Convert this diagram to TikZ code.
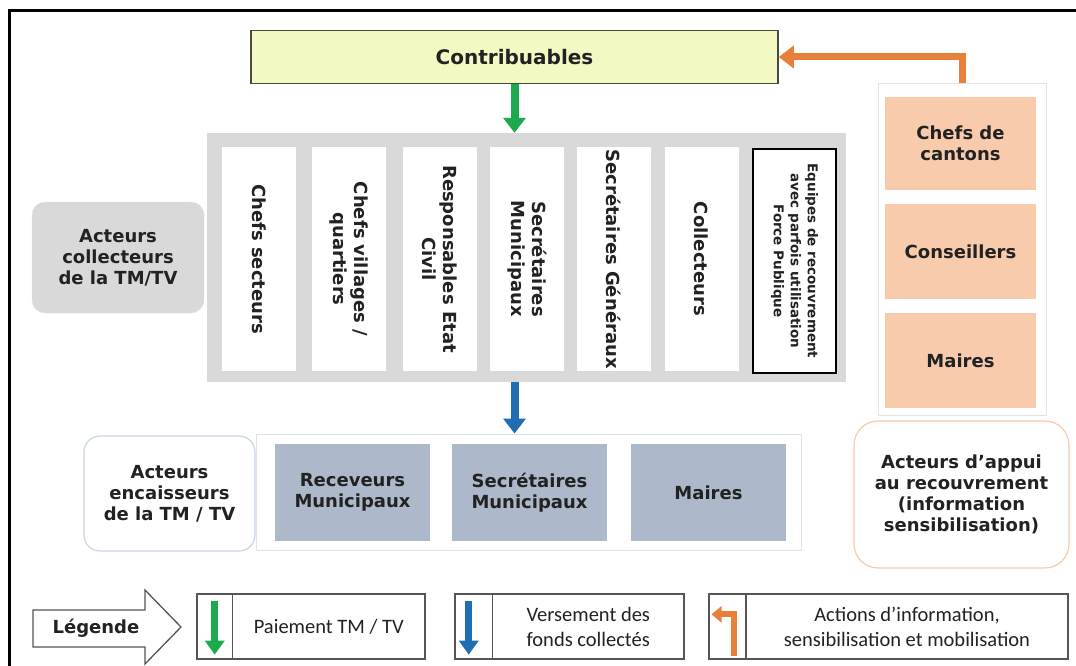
\documentclass[tikz,border=0pt]{standalone}
\usepackage{fontspec}
\setmainfont{DejaVu Sans}
\newfontfamily\legfont{Carlito}
\usetikzlibrary{arrows.meta}

\definecolor{txt}{HTML}{222222}
\definecolor{contribfill}{HTML}{F4F8C3}
\definecolor{contribline}{HTML}{4A4A3C}
\definecolor{panelgray}{HTML}{D9D9D9}
\definecolor{peach}{HTML}{F8CBAD}
\definecolor{slate}{HTML}{ADB9CA}
\definecolor{paygreen}{HTML}{1DAA4E}
\definecolor{fundblue}{HTML}{1F6EB4}
\definecolor{actorange}{HTML}{E9803A}
\definecolor{paleblue}{HTML}{C9D6E6}
\definecolor{palegray}{HTML}{E4E4E4}
\definecolor{legline}{HTML}{555555}

\tikzset{
  bigtxt/.style={font=\fontsize{18}{21}\selectfont\bfseries, text=txt, align=center},
  colbox/.style={bigtxt, fill=white, rotate=-90, minimum width=224, minimum height=74, inner sep=0},
  peachbox/.style={bigtxt, fill=peach, minimum width=151, inner sep=0},
  slatebox/.style={bigtxt, fill=slate, minimum width=155, minimum height=97, inner sep=0},
  legcell/.style={draw=legline, line width=1.3pt, fill=white, minimum height=65, inner sep=0,
    font=\legfont\fontsize{20.5}{25}\selectfont, text=txt, align=center},
  flowarrow/.style={line width=8pt, -{Triangle[width=22pt,length=15pt]}},
  iconarrow/.style={line width=7pt, -{Triangle[width=19pt,length=14pt]}},
}

\begin{document}
\begin{tikzpicture}[x=1pt,y=-1pt]
\useasboundingbox (0,0) rectangle (1076,666);
\fill[white] (0,0) rectangle (1076,666);

% frame
\draw[line width=3pt] (9,666) -- (9,11) -- (1076,11);

% taxpayers
\node[draw=contribline, line width=1.5pt, fill=contribfill, minimum width=527, minimum height=53,
  font=\fontsize{20}{24}\selectfont\bfseries, text=txt] (contrib) at (514.5,57) {Contribuables};

% collectors
\node[fill=panelgray, minimum width=639, minimum height=249, inner sep=0] (panel) at (526.5,257.5) {};
\node[colbox] (c1) at (259,259) {Chefs secteurs};
\node[colbox] (c2) at (349,259) {Chefs villages /\\quartiers};
\node[colbox] (c3) at (440,259) {Responsables Etat\\Civil};
\node[colbox] (c4) at (527,259) {Secrétaires\\Municipaux};
\node[colbox] (c5) at (614,259) {Secrétaires Généraux};
\node[colbox] (c6) at (701.5,259) {Collecteurs};
\node[colbox, draw=black, line width=1.3pt, minimum height=83,
  font=\fontsize{13.5}{17}\selectfont\bfseries] (c7) at (794.5,261) {Equipes de recouvrement\\avec parfois utilisation\\Force Publique};

\node[bigtxt, fill=panelgray, draw=palegray, rounded corners=13pt, minimum width=172, minimum height=111] (collect) at (118,257.5)
  {Acteurs\\collecteurs\\de la TM/TV};

% support actors
\node[draw=palegray, line width=1pt, minimum width=168, minimum height=331, inner sep=0] (support) at (962,249.5) {};
\node[peachbox, minimum height=93] (cantons) at (960.5,143.5) {Chefs de\\cantons};
\node[peachbox, minimum height=95] (conseil) at (960.5,251.5) {Conseillers};
\node[peachbox, minimum height=95] (mairesR) at (960.5,360.5) {Maires};
\node[bigtxt, draw=peach, line width=1.2pt, rounded corners=24pt, minimum width=215, minimum height=147] (appui) at (961.5,494.5)
  {Acteurs d’appui\\au recouvrement\\(information\\sensibilisation)};

% cashiers
\node[draw=paleblue!70, line width=1pt, minimum width=545, minimum height=116, inner sep=0] (cash) at (528.5,492) {};
\node[slatebox] (receveurs) at (352.5,492.5) {Receveurs\\Municipaux};
\node[slatebox] (secmun) at (529.5,492.5) {Secrétaires\\Municipaux};
\node[slatebox] (mairesB) at (708.5,492.5) {Maires};
\node[bigtxt, draw=paleblue, line width=1.2pt, rounded corners=16pt, minimum width=171, minimum height=115] (encaiss) at (169.5,493.5)
  {Acteurs\\encaisseurs\\de la TM / TV};

% flows
\draw[flowarrow, paygreen] (contrib.south) -- (contrib.south |- panel.north);
\draw[flowarrow, fundblue] (panel.south -| contrib.south) -- (cash.north -| contrib.south);
\draw[flowarrow, actorange, line width=7pt] (support.north) |- (contrib.east);

% legend
\draw[legline, line width=1.3pt, fill=white] (33,610) -- (145,610) -- (145,590) -- (181,627) -- (145,664) -- (145,647) -- (33,647) -- cycle;
\node[font=\fontsize{18}{21}\selectfont\bfseries, text=txt] (legende) at (96,628) {Légende};

\node[legcell, minimum width=35.5] (i1) at (214.75,626.5) {};
\node[legcell, minimum width=192.5] (t1) at (328.75,626.5) {Paiement TM / TV};
\node[legcell, minimum width=37.5] (i2) at (473.75,626.5) {};
\node[legcell, minimum width=191.5] (t2) at (588.25,626.5) {Versement des\\fonds collectés};
\node[legcell, minimum width=37] (i3) at (727.5,626.5) {};
\node[legcell, minimum width=322] (t3) at (907,626.5) {Actions d’information,\\sensibilisation et mobilisation};

\draw[iconarrow, paygreen] ([yshift=-8]i1.north) -- ([yshift=5]i1.south);
\draw[iconarrow, fundblue] ([xshift=-5,yshift=-8]i2.north) -- ([xshift=-5,yshift=5]i2.south);
\draw[iconarrow, actorange, line width=6pt, -{Triangle[width=16pt,length=10pt]}]
  ([xshift=6,yshift=4]i3.south) |- ([xshift=-16,yshift=-21]i3.north);
\end{tikzpicture}
\end{document}
